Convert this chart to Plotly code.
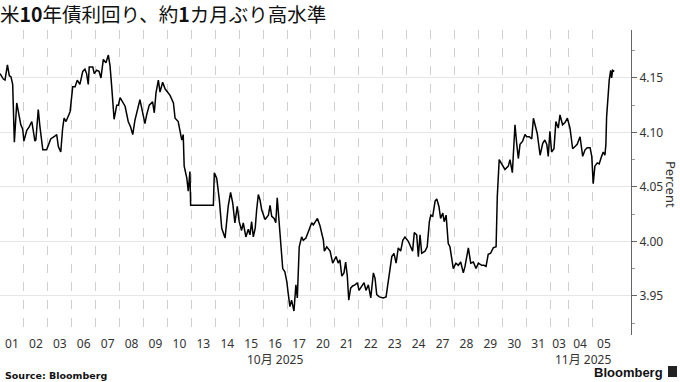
import numpy as np
import plotly.graph_objects as go

# ---- data -------------------------------------------------------------
# trading days shown (Oct 1 2025 .. Nov 5 2025)
day_labels = ["01", "02", "03", "06", "07", "08", "09", "10", "13", "14", "15", "16", "17",
              "20", "21", "22", "23", "24", "27", "28", "29", "30", "31", "03", "04", "05"]
# length of each trading session, in trading days (Nov 3 session is shorter)
session_days = [1] * 23 + [0.75, 1, 1]
month_labels = ["10月 2025", "11月 2025"]
month_first_day = [0, 23]   # index of first trading day of each month

# intraday position (trading days since Oct 1 open) and US 10Y yield (%)
t_days = [0.00, 0.14, 0.21, 0.31, 0.39, 0.46, 0.53, 0.60, 0.70, 0.77, 0.87, 0.95,
          1.00, 1.12, 1.22, 1.33, 1.37, 1.46, 1.50, 1.60, 1.67, 1.79, 1.95,
          2.02, 2.12, 2.26, 2.37, 2.44, 2.54, 2.62, 2.68, 2.76, 2.93,
          3.04, 3.14, 3.23, 3.34, 3.46, 3.55, 3.62, 3.69, 3.73, 3.88, 3.94,
          4.04, 4.14, 4.22, 4.32, 4.43, 4.53, 4.60, 4.67, 4.77, 4.88, 4.95,
          5.02, 5.13, 5.23, 5.36, 5.46, 5.55, 5.64, 5.85, 5.99,
          6.06, 6.13, 6.24, 6.38, 6.45, 6.52, 6.62, 6.69, 6.80, 6.90, 6.99,
          7.11, 7.25, 7.32, 7.45, 7.53, 7.60, 7.66, 7.70, 7.81, 7.87, 7.94, 7.97,
          8.92, 8.96,
          9.06, 9.17, 9.27, 9.41, 9.54, 9.64, 9.73, 9.82, 9.92,
          10.00, 10.10, 10.17, 10.28, 10.38, 10.45, 10.52, 10.59, 10.67, 10.73, 10.80, 10.87, 10.94,
          11.08, 11.22, 11.29, 11.36, 11.46, 11.53, 11.59, 11.68, 11.73, 11.82, 11.91, 11.99,
          12.05, 12.12, 12.19, 12.29, 12.37, 12.43, 12.51, 12.61, 12.68, 12.79, 12.93,
          13.03, 13.10, 13.27, 13.38, 13.52, 13.56, 13.66, 13.80, 13.91,
          14.05, 14.14, 14.21, 14.29, 14.38, 14.45, 14.52, 14.58, 14.66, 14.74, 14.84, 14.94,
          15.01, 15.12, 15.22, 15.30, 15.40, 15.50, 15.61, 15.68, 15.75, 15.86,
          16.02, 16.14, 16.23, 16.38, 16.47, 16.56, 16.65, 16.75, 16.84, 16.93,
          17.07, 17.17, 17.25, 17.32, 17.42, 17.49, 17.56, 17.63, 17.77, 17.86, 17.95,
          18.01, 18.09, 18.19, 18.26, 18.35, 18.42, 18.51, 18.57, 18.65, 18.74, 18.81, 18.88, 18.95,
          19.06, 19.16, 19.26, 19.37, 19.44, 19.58, 19.68, 19.79, 19.90,
          20.00, 20.14, 20.23, 20.32, 20.41, 20.51, 20.62, 20.74, 20.79, 20.87, 20.93,
          21.02, 21.11, 21.25, 21.32, 21.42, 21.53, 21.60, 21.67, 21.74, 21.85, 21.95,
          22.02, 22.13, 22.23, 22.30, 22.37, 22.46, 22.58, 22.69, 22.78, 22.86, 22.92, 22.99,
          23.06, 23.16, 23.24, 23.34, 23.41, 23.52, 23.62, 23.72, 23.83, 23.94,
          24.04, 24.13, 24.25, 24.36, 24.46, 24.55, 24.67, 24.74, 24.80, 24.87, 24.97,
          25.05, 25.15, 25.22, 25.29, 25.33, 25.36, 25.43, 25.47, 25.53, 25.57, 25.61, 25.68]

yields = [4.154, 4.149, 4.148, 4.162, 4.152, 4.151, 4.144, 4.091, 4.127, 4.119, 4.107, 4.103,
          4.092, 4.102, 4.105, 4.110, 4.105, 4.092, 4.093, 4.121, 4.105, 4.084, 4.084,
          4.089, 4.094, 4.096, 4.098, 4.087, 4.082, 4.104, 4.113, 4.110, 4.119,
          4.142, 4.142, 4.148, 4.144, 4.156, 4.158, 4.154, 4.144, 4.160, 4.160, 4.154,
          4.157, 4.156, 4.150, 4.167, 4.164, 4.171, 4.161, 4.142, 4.112, 4.125, 4.125,
          4.132, 4.128, 4.124, 4.110, 4.105, 4.098, 4.111, 4.130, 4.114,
          4.108, 4.116, 4.125, 4.128, 4.118, 4.136, 4.148, 4.137, 4.146, 4.140, 4.137,
          4.134, 4.127, 4.113, 4.110, 4.102, 4.093, 4.098, 4.069, 4.058, 4.046, 4.064, 4.033,
          4.033, 4.063,
          4.058, 4.038, 4.012, 4.003, 4.032, 4.045, 4.035, 4.017, 4.032,
          4.018, 4.010, 4.017, 4.004, 4.011, 4.006, 4.018, 4.004, 4.012, 4.029, 4.043, 4.038, 4.029,
          4.020, 4.024, 4.033, 4.023, 4.021, 4.017, 4.040, 4.014, 3.992, 3.975, 3.972, 3.963,
          3.952, 3.940, 3.946, 3.936, 3.960, 3.948, 3.995, 4.004, 4.001, 4.003, 4.011,
          4.017, 4.015, 4.021, 4.014, 4.001, 3.991, 3.995, 3.991, 3.980,
          3.986, 3.980, 3.983, 3.968, 3.971, 3.981, 3.968, 3.946, 3.957, 3.959, 3.960, 3.962,
          3.955, 3.959, 3.962, 3.955, 3.960, 3.948, 3.971, 3.966, 3.951, 3.949,
          3.948, 3.949, 3.965, 3.986, 3.989, 3.980, 3.994, 3.991, 4.001, 4.004,
          4.000, 3.995, 3.991, 4.008, 4.006, 3.986, 4.006, 3.989, 3.991, 3.995, 4.018,
          4.024, 4.023, 4.037, 4.039, 4.032, 4.021, 4.026, 4.018, 4.024, 3.998, 3.995, 3.985, 3.975,
          3.980, 3.978, 3.981, 3.971, 3.977, 3.994, 3.980, 3.981, 3.975,
          3.980, 3.978, 3.978, 3.977, 3.988, 3.989, 3.994, 3.995, 4.041, 4.075, 4.073,
          4.070, 4.066, 4.069, 4.075, 4.063, 4.107, 4.090, 4.076, 4.089, 4.092, 4.098,
          4.096, 4.096, 4.094, 4.113, 4.107, 4.099, 4.079, 4.090, 4.093, 4.089, 4.078, 4.101,
          4.082, 4.085, 4.110, 4.104, 4.116, 4.107, 4.109, 4.113, 4.104, 4.085,
          4.087, 4.089, 4.096, 4.078, 4.084, 4.086, 4.086, 4.078, 4.053, 4.069, 4.072,
          4.071, 4.078, 4.082, 4.079, 4.089, 4.114, 4.137, 4.148, 4.157, 4.150, 4.157, 4.156]

y_ticks = [3.95, 4.00, 4.05, 4.10, 4.15]

# ---- derived positions ------------------------------------------------
sess = np.array(session_days, dtype=float)
ends = np.cumsum(sess)
starts = ends - sess
centers = starts + sess / 2
boundaries = list(starts)

month_centers = []
for i, first in enumerate(month_first_day):
    last = month_first_day[i + 1] if i + 1 < len(month_first_day) else len(session_days)
    month_centers.append((starts[first] + ends[last - 1]) / 2)

W, H = 680, 382
ML, MR, MT, MB = 0, 49, 30, 47
PW, PH = W - ML - MR, H - MT - MB

TICK_FONT = "Noto Sans, Noto Sans CJK JP, sans-serif"

fig = go.Figure()
fig.add_trace(go.Scatter(
    x=t_days, y=yields, mode="lines",
    line=dict(color="#000000", width=1.5),
    hoverinfo="skip", showlegend=False,
))

fig.update_layout(
    width=W, height=H,
    margin=dict(l=ML, r=MR, t=MT, b=MB, pad=0),
    paper_bgcolor="white", plot_bgcolor="white",
    showlegend=False,
    title=dict(
        text="米<b>10</b>年債利回り、約<b>1</b>カ月ぶり高水準",
        font=dict(family="Noto Sans CJK JP", size=19.5, color="#111111"),
        x=0.0, xref="container", xanchor="left",
        y=1 - 15 / H, yref="container", yanchor="middle",
    ),
    xaxis=dict(
        range=[0, ends[-1] + 0.63],
        tickmode="array", tickvals=list(centers), ticktext=day_labels,
        showgrid=False, zeroline=False, showline=False, ticks="",
        tickfont=dict(family=TICK_FONT, size=12, color="#333333"),
        minor=dict(tickmode="array", tickvals=boundaries, showgrid=True,
                   gridcolor="#cfcfcf", griddash="dash", gridwidth=1, ticks=""),
        fixedrange=True,
    ),
    yaxis=dict(
        side="right",
        range=[3.914, 4.194],
        tickmode="array", tickvals=y_ticks,
        ticktext=[f"{v:.2f}" for v in y_ticks],
        showgrid=True, gridcolor="#e6e6e6", gridwidth=1,
        zeroline=False,
        showline=True, linecolor="#666666", linewidth=1,
        ticks="outside", ticklen=5, tickcolor="#666666",
        tickfont=dict(family=TICK_FONT, size=12, color="#333333"),
        minor=dict(tickmode="linear", tick0=3.925, dtick=0.05, ticks="outside",
                   ticklen=3, tickcolor="#999999", showgrid=False),
        fixedrange=True,
    ),
)

annotations = []
for txt, xc in zip(month_labels, month_centers):
    annotations.append(dict(
        text=txt, x=xc, xref="x", y=-(359 - (MT + PH)) / PH, yref="paper",
        xanchor="center", yanchor="middle", showarrow=False,
        font=dict(family=TICK_FONT, size=12, color="#333333"),
    ))
annotations.append(dict(
    text="<b>Source: Bloomberg</b>", x=3 / PW, xref="paper", xanchor="left",
    y=-(375 - (MT + PH)) / PH, yref="paper", yanchor="middle", showarrow=False,
    font=dict(family="DejaVu Sans", size=9.5, color="#111111"),
))
annotations.append(dict(
    text="<b>Bloomberg</b>", x=665 / PW, xref="paper", xanchor="right",
    y=-(372 - (MT + PH)) / PH, yref="paper", yanchor="middle", showarrow=False,
    font=dict(family="Liberation Sans", size=13, color="#111111"),
))
annotations.append(dict(
    text="Percent", x=671 / PW, xref="paper", xanchor="center",
    y=(MT + PH - 184) / PH, yref="paper", yanchor="middle", showarrow=False,
    textangle=90,
    font=dict(family=TICK_FONT, size=13, color="#333333"),
))
fig.update_layout(annotations=annotations)

fig.add_shape(type="rect", xref="paper", yref="paper",
              x0=668 / PW, x1=677 / PW,
              y0=-(377 - (MT + PH)) / PH, y1=-(366 - (MT + PH)) / PH,
              fillcolor="#222222", line=dict(width=0))

fig.write_html("out.html")
